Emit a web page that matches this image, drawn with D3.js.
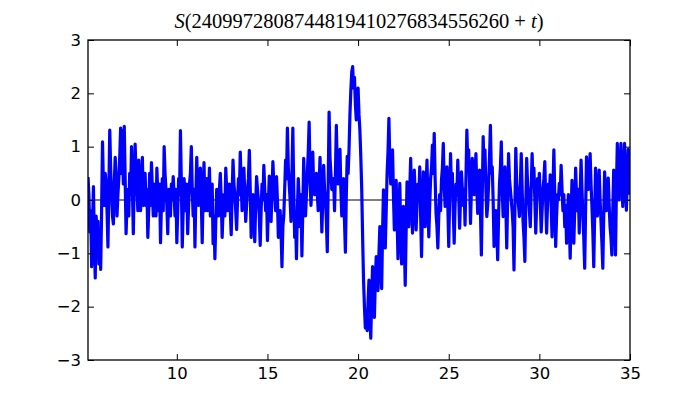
<!DOCTYPE html>
<html>
<head>
<meta charset="utf-8">
<script src="https://cdn.jsdelivr.net/npm/d3@7"></script>
<style>
  body { margin: 0; background: #fff; }
  svg { display: block; }
</style>
</head>
<body>
<svg width="700" height="400"></svg>
<script>
var tStart = 5.1;
var tStep = 0.05;
var sValues = [
  0.43, 0.1, -0.6, -0.2, -1.25, -0.5, 0.25, -0.8, -1.46, -0.3, -0.9, -0.4, -1.2, -0.7, -1.3, -0.2, 1.09, 0.3, -0.1, 0.5,
  0.3, -0.2, -0.88, 0.2, 1.31, 0.6, 0.1, -0.3, -0.45, 0.3, 0.8, 0.4, -0.3, 0.1, 0.4, 0.8, 1.35, 0.5, 1.3, 0.3,
  1.38, 0.4, -0.63, -0.1, 0.2, -0.3, 0.5, 0.1, 1.0, 0.2, -0.63, 0.4, 1.05, 0.5, 0.2, -0.2, 0.75, 0.3, -0.2, 0.2,
  0.8, -0.1, 0.3, 0.5, -0.1, 0.2, -0.7, -0.2, 0.5, -0.1, 0.7, 0.2, -0.3, 0.3, 0.1, -0.3, 0.6, 0.1, -0.2, 0.3,
  -0.8, -0.1, 0.4, -0.2, 1.0, 0.5, 0.2, -0.1, -0.63, 0.2, 0.1, -0.3, 0.3, 0.0, 0.44, 0.1, -0.3, 0.2, -0.8, -0.2,
  0.4, 0.1, 1.3, 0.3, -0.88, -0.2, 0.4, 0.1, -0.2, 0.3, -0.63, -0.1, 0.3, 0.5, 1.0, 0.2, -0.3, 0.2, -0.88, 0.1,
  0.8, 0.2, -0.1, 0.3, 0.6, 0.0, -0.8, 0.1, 0.7, -0.2, 0.2, 0.4, -0.2, 0.1, 0.6, -0.3, 0.1, 0.3, -0.82, -0.3,
  -1.1, -0.4, 0.2, -0.1, -0.3, 0.2, 0.5, 0.0, -0.7, -0.2, 0.1, -0.3, 0.6, 0.2, -0.2, 0.1, 0.3, -0.2, -0.65, 0.1,
  0.75, 0.3, 0.1, -0.2, -0.55, 0.0, 0.4, 0.1, 0.9, 0.3, -0.2, 0.2, 0.6, 0.1, -0.4, -0.1, 0.2, 0.4, 0.93, 0.2,
  -0.7, -0.2, 0.1, -0.3, -0.78, -0.1, 0.44, 0.2, 0.0, -0.3, -0.85, -0.2, 0.3, 0.0, 0.65, 0.2, -0.2, 0.1, -0.76, -0.1,
  0.45, 0.1, -0.4, 0.2, 0.72, 0.3, 0.1, -0.2, 0.44, 0.0, -0.7, -0.3, -0.2, -0.6, -1.25, -0.5, -0.3, 0.2, 0.75, 0.4,
  1.35, 0.6, 0.3, 0.0, -0.4, 0.5, 1.35, 0.2, -0.7, -0.3, -1.1, -0.2, 0.4, 0.0, -0.5, 0.1, -1.05, -0.2, 0.78, 0.2,
  -0.3, 0.1, 0.5, 0.9, 1.46, 0.4, -0.1, 0.3, 0.9, 0.2, 0.1, 0.3, 0.5, 0.1, -0.2, 0.3, 0.8, 0.1, -0.6, 0.0,
  0.65, 0.2, 0.0, -0.4, -0.97, 0.3, 1.65, 0.8, 0.5, 0.2, 0.19, 0.4, -0.2, 0.5, 1.4, 0.6, 0.3, 0.6, 0.95, 0.2,
  -0.3, 0.1, 0.4, -0.4, -0.98, 0.1, 0.82, 0.5, 0.95, 1.6, 2.06, 2.4, 2.5, 2.1, 2.3, 1.8, 1.5, 1.9, 2.1, 1.6,
  1.3, 0.8, 0.2, -0.7, -1.5, -2.0, -2.4, -2.3, -2.45, -1.9, -1.5, -2.2, -2.59, -1.8, -1.25, -1.9, -2.2, -1.5, -1.06, -1.5,
  -1.7, -1.0, -0.5, -1.2, -1.66, -0.6, 0.19, -0.3, -0.9, -0.2, 0.5, 0.9, 1.53, 0.7, 0.3, 0.5, 0.94, 0.1, -0.56, -0.1,
  0.37, -0.3, -1.1, -0.4, 0.31, -0.5, -1.2, -0.5, -0.12, -0.8, -1.6, -0.6, 0.34, 0.0, -0.5, 0.2, 0.78, 0.1, -0.62, -0.1,
  0.56, 0.1, -0.56, -0.1, 0.3, 0.0, 0.62, -0.3, -1.06, -0.2, 0.53, 0.1, -0.5, 0.2, 0.75, 0.0, -0.69, -0.1, 0.4, 0.6,
  1.03, 0.5, 1.25, 0.4, -0.25, -0.5, -0.9, -0.3, 0.1, -0.2, 0.37, 0.6, 1.06, 0.3, -0.12, 0.2, 0.62, -0.1, -0.87, 0.0,
  0.87, 0.2, 0.5, -0.2, -0.81, -0.1, 0.3, 0.1, 0.75, 0.1, -0.53, 0.0, 0.53, 0.2, -0.1, 0.2, -0.47, 0.4, 1.31, 0.7,
  0.94, 0.3, -0.44, 0.2, 0.78, 0.3, 0.1, 0.5, 0.87, 0.2, -0.25, 0.1, 0.56, -0.2, -1.03, 0.1, 1.19, 0.5, 0.94, 0.2,
  -0.31, -0.1, 0.3, 0.8, 1.4, 0.5, 0.62, 0.0, -0.87, -0.4, -0.2, -0.5, -1.12, -0.3, 0.31, 0.6, 1.09, 0.2, -0.31, 0.1,
  0.62, -0.1, -0.9, 0.0, 0.87, 0.4, 0.2, 0.0, -0.22, -0.5, -1.31, -0.2, 0.97, 0.3, 0.1, -0.1, -0.31, 0.3, 0.87, 0.2,
  -0.4, -0.7, -1.15, -0.1, 0.78, 0.3, 0.1, -0.2, -0.5, 0.2, 0.87, 0.3, 0.6, 0.0, -0.62, -0.1, 0.4, 0.1, 0.5, 0.0,
  -0.6, -0.2, 0.2, 0.4, 0.72, 0.0, -0.62, -0.1, 0.3, 0.1, 0.47, -0.1, -0.69, 0.2, 0.94, 0.1, -0.87, -0.3, 0.1, 0.0,
  0.31, 0.1, 0.65, 0.2, -0.2, 0.1, -0.5, -0.1, -0.81, -0.3, 0.1, -0.4, -1.09, -0.3, 0.37, -0.2, -0.81, -0.2, 0.6, 0.1,
  -0.2, 0.2, -0.62, 0.1, 0.75, 0.2, -0.3, -0.7, -1.28, -0.2, 0.81, 0.3, 0.2, 0.5, 0.87, 0.3, -0.12, -0.6, -1.25, -0.3,
  0.6, 0.1, -0.3, 0.2, 0.56, 0.0, -0.4, -0.8, -1.28, -0.3, 0.53, 0.1, -0.2, 0.2, 0.41, -0.1, -0.5, -0.7, -1.03, -0.2,
  0.56, -0.2, -1.03, 0.2, 1.06, 0.5, 0.0, 0.6, 1.06, 0.4, -0.12, 0.5, 1.06, 0.3, -0.19, 0.4, 0.95, 0.3, 0.1
];
var xTicks = [10, 15, 20, 25, 30, 35];
var yTicks = [-3, -2, -1, 0, 1, 2, 3];
var titleNumber = "2409972808744819410276834556260";

var data = sValues.map(function (v, i) {
    return {t: tStart + i * tStep, s: v};
});

var svg = d3.select("svg");
var margin = {top: 40, right: 70, bottom: 40, left: 88};
var width = 700 - margin.left - margin.right,
    height = 400 - margin.top - margin.bottom;

var xScale = d3.scaleLinear()
        .domain(d3.extent(data, function (d) { return d.t; }))
        .range([0, width]);
var yScale = d3.scaleLinear()
        .domain([-3, 3])
        .range([height, 0]);

var g = svg.append("g")
        .attr("transform", "translate(" + margin.left + "," + margin.top + ")");

svg.append("defs").append("clipPath")
        .attr("id", "clip")
        .append("rect")
        .attr("width", width)
        .attr("height", height);

var plot = g.append("g").attr("clip-path", "url(#clip)");

// zero line
plot.append("line")
        .attr("x1", 0)
        .attr("x2", width)
        .attr("y1", yScale(0))
        .attr("y2", yScale(0))
        .attr("stroke", "#000")
        .attr("stroke-width", 1);

var line = d3.line()
        .x(function (d) { return xScale(d.t); })
        .y(function (d) { return yScale(d.s); });

plot.append("path")
        .datum(data)
        .attr("d", line)
        .attr("fill", "none")
        .attr("stroke", "#0000ff")
        .attr("stroke-width", 3.2)
        .attr("stroke-linejoin", "round");

// axes, ticks pointing inward like matplotlib classic
var fmt = d3.format("d");
var gXb = g.append("g")
        .attr("transform", "translate(0," + height + ")")
        .call(d3.axisBottom(xScale).tickValues(xTicks).tickSize(-6).tickPadding(7.5).tickFormat(fmt));
var gXt = g.append("g")
        .call(d3.axisTop(xScale).tickValues(xTicks).tickSize(-6).tickFormat(""));
var gYl = g.append("g")
        .call(d3.axisLeft(yScale).tickValues(yTicks).tickSize(-6).tickPadding(7).tickFormat(fmt));
var gYr = g.append("g")
        .attr("transform", "translate(" + width + ",0)")
        .call(d3.axisRight(yScale).tickValues(yTicks).tickSize(-6).tickFormat(""));

[gXb, gXt, gYl, gYr].forEach(function (a) {
    a.select(".domain").remove();
    a.selectAll("line").attr("stroke", "#000").attr("stroke-width", 1);
    a.selectAll("text")
            .attr("fill", "#000")
            .style("font-family", "'DejaVu Sans', sans-serif")
            .style("font-size", "16.5px");
});

g.append("rect")
        .attr("width", width)
        .attr("height", height)
        .attr("fill", "none")
        .attr("stroke", "#000")
        .attr("stroke-width", 1.3);

// title
var title = svg.append("text")
        .attr("x", margin.left + width / 2)
        .attr("y", 28)
        .attr("text-anchor", "middle")
        .style("font-family", "'Liberation Serif', 'DejaVu Serif', serif")
        .style("font-size", "20.5px");
title.append("tspan").style("font-style", "italic").text("S");
title.append("tspan").text("(" + titleNumber + " + ");
title.append("tspan").style("font-style", "italic").text("t");
title.append("tspan").text(")");
</script>
</body>
</html>
